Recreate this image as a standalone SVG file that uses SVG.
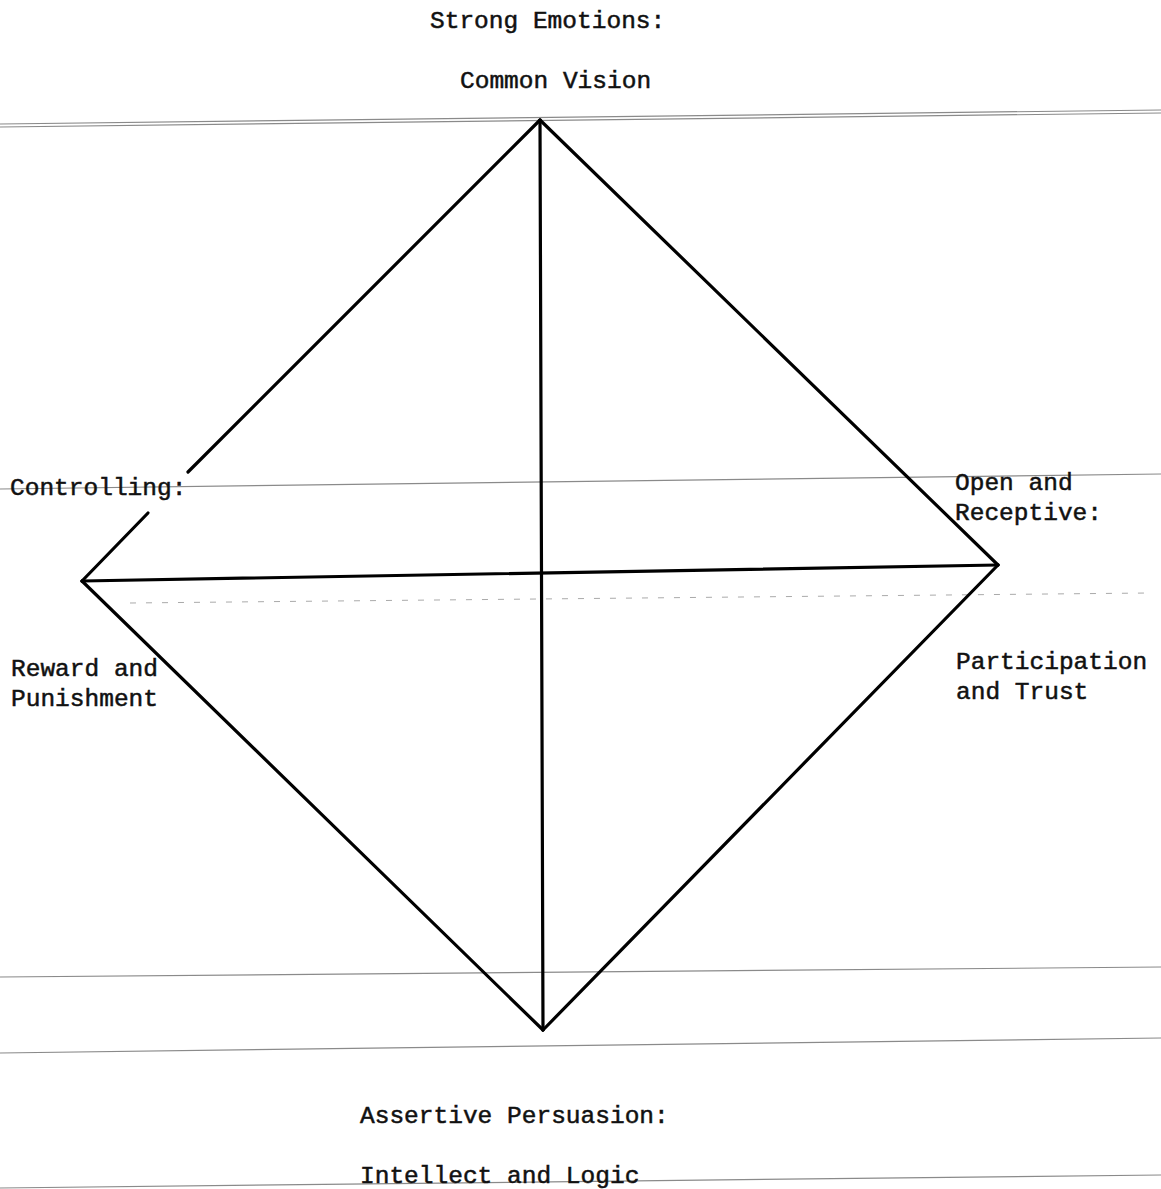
<svg xmlns="http://www.w3.org/2000/svg" width="1161" height="1189" viewBox="0 0 1161 1189">
<style>
.lbl{font-family:"Liberation Mono","Courier New",monospace;font-size:24.5px;fill:#111;stroke:#111;stroke-width:0.5}
.rule{stroke:#8a8a8a;stroke-width:1.2;fill:none}
.dot{stroke:#aaa;stroke-width:1;fill:none;stroke-dasharray:6 10}
.edge{stroke:#000;stroke-width:3.2;fill:none;stroke-linecap:round}
</style>
<rect width="1161" height="1189" fill="#fff"/>
<g id="rules">
<line class="rule" x1="0" y1="124" x2="1161" y2="110"/>
<line class="rule" x1="0" y1="127" x2="1161" y2="113"/>
<line class="rule" x1="0" y1="489" x2="1161" y2="474"/>
<line class="dot" x1="130" y1="603" x2="1150" y2="593"/>
<line class="rule" x1="0" y1="977" x2="1161" y2="967"/>
<line class="rule" x1="0" y1="1053" x2="1161" y2="1038"/>
<line class="rule" x1="0" y1="1188" x2="1161" y2="1175"/>
</g>
<g id="connectors">
<line class="edge" x1="540" y1="120" x2="188" y2="472"/>
<line class="edge" x1="148" y1="513" x2="82" y2="581"/>
<line class="edge" x1="540" y1="120" x2="998" y2="565"/>
<line class="edge" x1="82" y1="581" x2="543" y2="1030"/>
<line class="edge" x1="998" y1="565" x2="543" y2="1030"/>
<line class="edge" x1="540" y1="120" x2="543" y2="1030"/>
<line class="edge" x1="82" y1="581" x2="998" y2="565"/>
</g>
<g id="top"><text class="lbl" x="430" y="28">Strong Emotions:</text><text class="lbl" x="460" y="88">Common Vision</text></g>
<g id="left"><text class="lbl" x="10" y="495">Controlling:</text><text class="lbl" x="11" y="676">Reward and</text><text class="lbl" x="11" y="706">Punishment</text></g>
<g id="right"><text class="lbl" x="955" y="490">Open and</text><text class="lbl" x="955" y="520">Receptive:</text><text class="lbl" x="956" y="669">Participation</text><text class="lbl" x="956" y="699">and Trust</text></g>
<g id="bottom"><text class="lbl" x="360" y="1123">Assertive Persuasion:</text><text class="lbl" x="360" y="1183">Intellect and Logic</text></g>
</svg>
